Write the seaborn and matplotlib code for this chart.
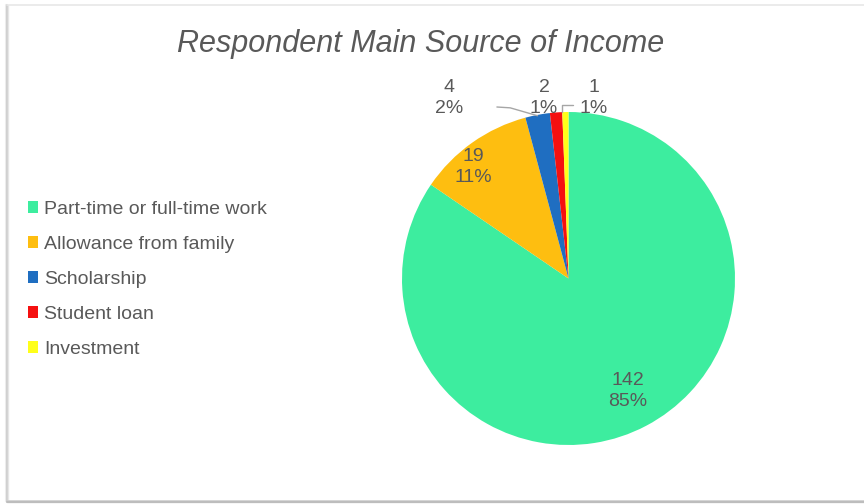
import numpy as np
import matplotlib
matplotlib.use("Agg")
import matplotlib.pyplot as plt
from matplotlib.lines import Line2D
from matplotlib.patches import Rectangle
import seaborn as sns

# Survey results: main source of income
categories = ["Part-time or full-time work", "Allowance from family",
              "Scholarship", "Student loan", "Investment"]
counts = [142, 19, 4, 2, 1]
percent_labels = ["85%", "11%", "2%", "1%", "1%"]
colors = ["#3DED9F", "#FEBE10", "#1F6EC1", "#F51010", "#FFFF1A"]
title = "Respondent Main Source of Income"

sns.set_theme(style="white")
plt.rcParams["font.family"] = ["Liberation Sans", "DejaVu Sans"]
text_color = "#595959"

W, H = 864, 504
fig = plt.figure(figsize=(W / 100, H / 100), dpi=100)
fig.patch.set_facecolor("white")

# Pie axes, centred at (568.5, 278.5) px with radius 166.5 px
cx, cy, r = 568.5, 278.5, 166.5
ax = fig.add_axes([(cx - r) / W, (H - cy - r) / H, 2 * r / W, 2 * r / H])
wedges, _ = ax.pie(counts, colors=colors, startangle=90, counterclock=False,
                   radius=1.0, wedgeprops=dict(linewidth=0))
ax.set_xlim(-1, 1)
ax.set_ylim(-1, 1)
ax.set_aspect("equal")
ax.axis("off")

def mid_angle(w):
    return np.deg2rad((w.theta1 + w.theta2) / 2)

label_font = dict(fontsize=14, color=text_color, ha="center", va="center",
                  linespacing=1.35)

# Inside labels
for i, rad, dang in [(0, 0.765, 0.0), (1, 0.88, 5.0)]:
    a = mid_angle(wedges[i]) + np.deg2rad(dang)
    ax.text(rad * np.cos(a), rad * np.sin(a),
            f"{counts[i]}\n{percent_labels[i]}", **label_font)

# Outside labels for the small slices, placed on one row above the pie
outside = {2: -0.718, 3: -0.147, 4: 0.153}
row_y = 1.084
for i, lx in outside.items():
    ax.text(lx, row_y, f"{counts[i]}\n{percent_labels[i]}", **label_font)

# Leader lines
a = mid_angle(wedges[2])
ex, ey = np.cos(a), np.sin(a)
ax.add_line(Line2D([-0.43, -0.35, ex], [1.03, 1.025, ey - 0.005],
                   color="#a6a6a6", lw=1.0, clip_on=False))
a = mid_angle(wedges[4])
ex, ey = np.cos(a) - 0.02, np.sin(a)
ax.add_line(Line2D([ex, ex, 0.03], [ey, 1.045, 1.045],
                   color="#a6a6a6", lw=1.0, clip_on=False))

# Title
fig.text(421 / W, 1 - 44 / H, title, fontsize=22, style="italic",
         color=text_color, ha="center", va="center")

# Legend
handles = [Rectangle((0, 0), 1, 1, facecolor=c, edgecolor="none") for c in colors]
leg = fig.legend(handles, categories, loc="upper left",
                 bbox_to_anchor=(18 / W, 1 - 191 / H), frameon=False,
                 fontsize=14, handlelength=0.55, handleheight=0.55,
                 handletextpad=0.3, labelspacing=0.925, borderpad=0,
                 labelcolor=text_color)

# Card border with soft shadow
for x, c, lw in [(5.5, "#eeeeee", 1.5), (7, "#d0d0d0", 1.5), (8.3, "#e6e6e6", 1.0)]:
    fig.add_artist(Line2D([x / W, x / W], [1 - 5 / H, 1 - 501 / H],
                          transform=fig.transFigure, color=c, lw=lw))
fig.add_artist(Line2D([7 / W, 1], [1 - 5 / H, 1 - 5 / H],
                      transform=fig.transFigure, color="#e8e8e8", lw=1.2))
for y, c, lw in [(500.5, "#cfcfcf", 1.2), (502, "#bdbdbd", 1.5), (503.5, "#e0e0e0", 1.0)]:
    fig.add_artist(Line2D([7 / W, 1], [1 - y / H, 1 - y / H],
                          transform=fig.transFigure, color=c, lw=lw))

fig.savefig("out.png", dpi=100, facecolor="white")
